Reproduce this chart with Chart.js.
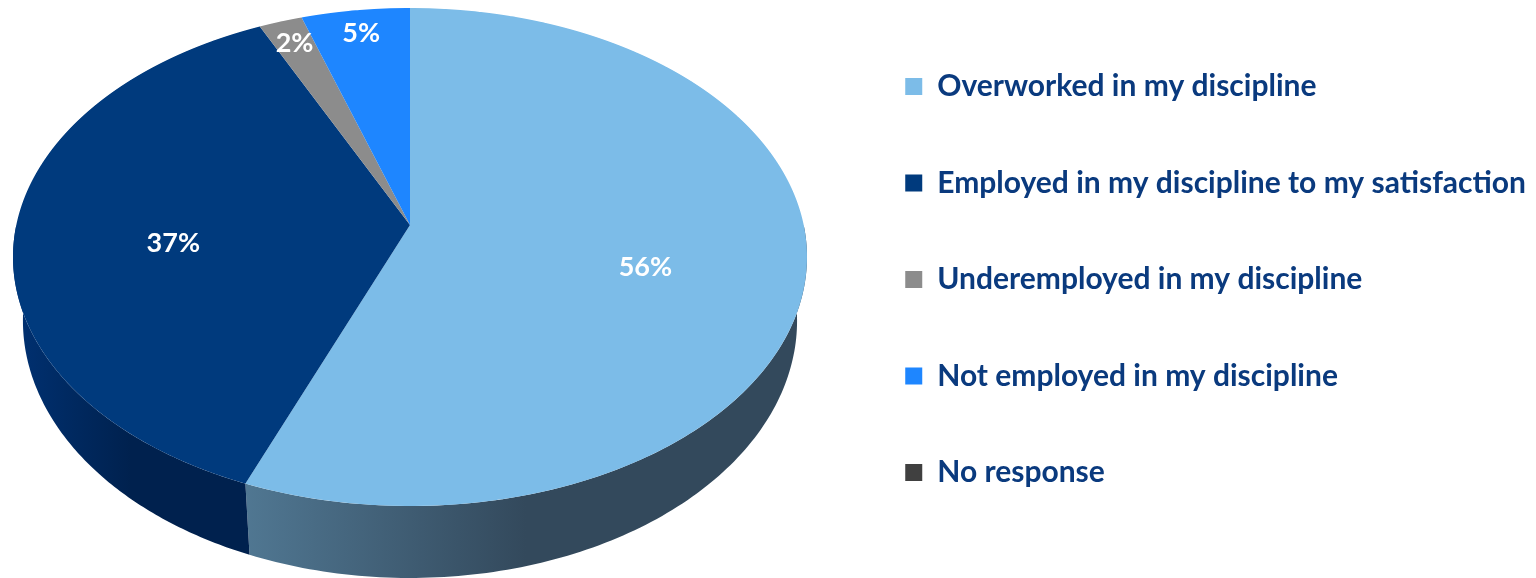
<!DOCTYPE html>
<html>
<head>
<meta charset="utf-8">
<script src="https://cdn.jsdelivr.net/npm/chart.js@4.4.1/dist/chart.umd.min.js"></script>
<style>
  html, body { margin: 0; padding: 0; background: #ffffff; }
  #wrap { width: 1536px; height: 578px; }
</style>
</head>
<body>
<div id="wrap"><canvas id="employmentChart"></canvas></div>
<script>
const categories = [
    'Overworked in my discipline',
    'Employed in my discipline to my satisfaction',
    'Underemployed in my discipline',
    'Not employed in my discipline',
    'No response'
];
const shares = [56, 37, 2, 5, 0];

const sliceColors = ['#7CBCE8', '#003A7D', '#8C8C8C', '#1E86FF', '#404040'];
// side wall shading, left -> right
const wallColors = [
    ['#507792', '#33495C'],
    ['#003172', '#00214E'],
    ['#5E5E5E', '#4A4A4A'],
    ['#145BB0', '#0E4589'],
    ['#2A2A2A', '#1E1E1E']
];

const textColor = '#0A3A7E';
const fontFamily = 'Lato, "Open Sans", sans-serif';

// tilted disc seen in perspective: centre, half axes, foreshortening, wall height
const persp = { cx: 410, cy: 225, A: 393.7, B: 244.9, k: 0.1285, depth: 62.7, shrink: 0.975 };

function rimTop(a, f = 1) {
    const u = f * Math.cos(a), v = f * Math.sin(a), w = 1 - persp.k * v;
    return [persp.cx + persp.A * u / w, persp.cy + persp.B * v / w];
}
function rimBottom(a) {
    const [x, y] = rimTop(a);
    const w = 1 - persp.k * Math.sin(a);
    return [persp.cx + persp.shrink * (x - persp.cx), y + persp.depth / w];
}

// legend font sized so the longest label is ~588px wide
function legendFontSize() {
    const c = document.createElement('canvas').getContext('2d');
    c.font = 'bold 100px ' + fontFamily;
    const longest = Math.max(...categories.map(t => c.measureText(t).width));
    return Math.round(100 * 588 / longest * 10) / 10;
}
const legendSize = legendFontSize();
const rowGap = 96.5;

const pie3d = {
    id: 'pie3d',
    beforeDatasetsDraw(chart) {
        const ctx = chart.ctx;
        const arcs = chart.getDatasetMeta(0).data;
        const steps = 120;

        // front walls (only the half facing the viewer)
        arcs.forEach((arc, i) => {
            const s = Math.max(arc.startAngle, 0);
            const e = Math.min(arc.endAngle, Math.PI);
            if (e <= s) return;
            const top = [], bottom = [];
            for (let j = 0; j <= steps; j++) {
                const a = s + (e - s) * j / steps;
                top.push(rimTop(a));
                bottom.push(rimBottom(a));
            }
            const xs = top.concat(bottom).map(p => p[0]);
            const g = ctx.createLinearGradient(Math.min(...xs), 0, Math.max(...xs), 0);
            g.addColorStop(0, wallColors[i][0]);
            g.addColorStop(0.5, wallColors[i][1]);
            g.addColorStop(1, wallColors[i][1]);
            ctx.save();
            ctx.fillStyle = g;
            ctx.beginPath();
            top.forEach((p, j) => j ? ctx.lineTo(p[0], p[1]) : ctx.moveTo(p[0], p[1]));
            bottom.reverse().forEach(p => ctx.lineTo(p[0], p[1]));
            ctx.closePath();
            ctx.fill();
            ctx.restore();
        });

        // top face: redraw the round pie one pixel row at a time,
        // each row with its own foreshortening
        const a0 = arcs[0];
        const R = a0.outerRadius;
        const yTop = Math.floor(persp.cy - persp.B / (1 + persp.k)) - 1;
        const yBot = Math.ceil(persp.cy + persp.B / (1 - persp.k)) + 1;
        for (let y = yTop; y < yBot; y++) {
            const ym = y + 0.5;
            const t = ym - persp.cy;
            const v0 = t / (persp.B + persp.k * t);
            const w0 = 1 - persp.k * v0;
            const sy = persp.B / (w0 * w0);
            ctx.save();
            ctx.beginPath();
            ctx.rect(0, y, chart.width, 1);
            ctx.clip();
            ctx.translate(persp.cx, ym - sy * v0);
            ctx.scale(persp.A / (w0 * R), sy / R);
            ctx.translate(-a0.x, -a0.y);
            arcs.forEach(arc => arc.draw(ctx));
            ctx.restore();
        }

        // percentage labels
        ctx.save();
        ctx.fillStyle = '#ffffff';
        ctx.font = 'bold 27px ' + fontFamily;
        ctx.textAlign = 'center';
        ctx.textBaseline = 'middle';
        arcs.forEach((arc, i) => {
            if (!shares[i]) return;
            const mid = (arc.startAngle + arc.endAngle) / 2;
            const small = shares[i] < 10;
            const [x, y] = rimTop(mid, small ? 0.88 : 0.6);
            ctx.fillText(shares[i] + '%', x, y + (small ? 0 : 14));
        });
        ctx.restore();

        return false;
    }
};

const ctx = document.getElementById('employmentChart').getContext('2d');
const employmentChart = new Chart(ctx, {
    type: 'pie',
    data: {
        labels: categories,
        datasets: [{
            data: shares,
            backgroundColor: sliceColors,
            borderWidth: 0,
            clip: false
        }]
    },
    options: {
        responsive: true,
        maintainAspectRatio: false,
        animation: false,
        events: [],
        layout: {
            padding: { bottom: 19 }
        },
        plugins: {
            legend: {
                position: 'right',
                align: 'center',
                labels: {
                    boxWidth: 17,
                    boxHeight: 17,
                    padding: rowGap - legendSize,
                    color: textColor,
                    font: { family: fontFamily, size: legendSize, weight: 'bold' }
                }
            },
            tooltip: { enabled: false }
        }
    },
    plugins: [pie3d]
});
</script>
</body>
</html>
